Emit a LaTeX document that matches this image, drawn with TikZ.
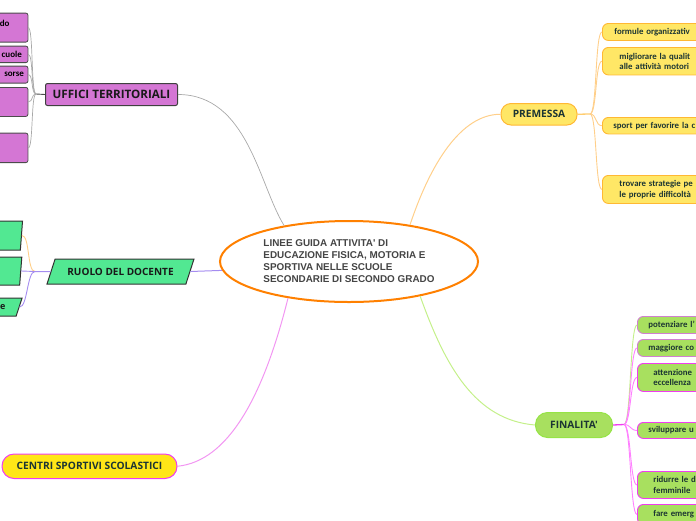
\documentclass[tikz,border=0pt]{standalone}
\usepackage{fontspec}
\setmainfont{Carlito}
\newfontfamily\osans{Open Sans}
\newfontfamily\arialf{Liberation Sans}
\usetikzlibrary{shapes.geometric}
\definecolor{purpF}{RGB}{212,118,212}
\definecolor{greenP}{RGB}{82,232,146}
\definecolor{premF}{RGB}{255,231,102}
\definecolor{premB}{RGB}{255,184,51}
\definecolor{finF}{RGB}{168,224,95}
\definecolor{finB}{RGB}{150,228,70}
\definecolor{centF}{RGB}{255,230,23}
\definecolor{magB}{RGB}{240,60,240}
\definecolor{mauveB}{RGB}{208,128,208}
\definecolor{txtD}{RGB}{28,53,51}
\definecolor{rootB}{RGB}{255,128,0}
\definecolor{rootT}{RGB}{68,68,68}
\definecolor{lnGray}{RGB}{168,168,168}
\definecolor{lnOrange}{RGB}{255,207,138}
\definecolor{lnPink}{RGB}{242,150,242}
\definecolor{lnGreen}{RGB}{196,240,138}
\definecolor{lnPurple}{RGB}{165,140,240}
\definecolor{lnMag}{RGB}{255,128,255}
\tikzset{
  mainfont/.style={font=\osans\bfseries\fontsize{10.2}{12}\selectfont},
  childfont/.style={font=\bfseries\fontsize{8.8}{10.5}\selectfont},
  lbox/.style={fill=purpF, draw=black!70, line width=0.8pt, rounded corners=2pt,
    anchor=north east, text width=100pt, inner xsep=0pt, inner ysep=0pt, align=right,
    font=\bfseries\fontsize{9}{10}\selectfont, text=black},
  pgram/.style={trapezium, trapezium stretches=true, fill=greenP, draw=black!80,
    line width=1pt, inner sep=2pt},
  pchild/.style={fill=premF, draw=premB, line width=0.9pt, rounded corners=6pt,
    anchor=north west, text width=150pt, inner ysep=0pt, align=left, childfont, text=txtD},
  fchild/.style={fill=finF, draw=magB, line width=0.9pt, rounded corners=6pt,
    anchor=north west, text width=150pt, inner ysep=0pt, align=left, childfont, text=txtD},
  conn/.style={line width=0.8pt},
}
\begin{document}
\begin{tikzpicture}[x=1pt,y=-1pt]
\useasboundingbox (0,0) rectangle (696,520);
\clip (0,0) rectangle (696,520);

% central node
\node[ellipse, draw=rootB, line width=2pt, fill=white, minimum width=258pt, minimum height=81pt,
  inner sep=0pt, align=left, text=rootT, font=\arialf\bfseries\fontsize{9.9}{12}\selectfont]
  (root) at (349,261.5) {LINEE GUIDA ATTIVITA' DI\\EDUCAZIONE FISICA, MOTORIA E\\SPORTIVA NELLE SCUOLE\\SECONDARIE DI SECONDO GRADO};

% main topics
\node[fill=purpF, draw=black!75, line width=1pt, rounded corners=2pt, anchor=north west,
  minimum width=132pt, minimum height=22pt, inner sep=0pt, text=black!90,
  font=\osans\bfseries\fontsize{11.6}{13}\selectfont] (uffici) at (45,83) {UFFICI TERRITORIALI};
\node[pgram, trapezium left angle=59, trapezium right angle=121, minimum width=147pt,
  minimum height=25pt, text=black!90, font=\osans\bfseries\fontsize{10}{12}\selectfont]
  (ruolo) at (120.5,271.5) {RUOLO DEL DOCENTE};
\node[fill=centF, draw=magB, line width=1pt, rounded corners=12pt, anchor=north west,
  minimum width=175pt, minimum height=24.5pt, inner sep=0pt, text=txtD, mainfont]
  (centri) at (1.5,453.5) {CENTRI SPORTIVI SCOLASTICI};
\node[fill=premF, draw=premB, line width=1pt, rounded corners=10pt, anchor=north west,
  minimum width=76pt, minimum height=21.5pt, inner sep=0pt, text=txtD, mainfont]
  (premessa) at (500.5,103) {PREMESSA};
\node[fill=finF, draw=finB, line width=1pt, rounded corners=12pt, anchor=north west,
  minimum width=77pt, minimum height=25pt, inner sep=0pt, text=txtD, mainfont]
  (finalita) at (535,412) {FINALITA'};

% left purple boxes
\node[lbox, align=left, minimum height=29pt, text height=7pt, text depth=10pt] (b1) at (28.3,12.7) {\hspace*{72pt}do};
\node[lbox, minimum height=16.5pt] (b2) at (28.3,45.7) {\mbox{cuole\rule{6pt}{0pt}}};
\node[lbox, minimum height=17pt] (b3) at (28.3,65.7) {\mbox{sorse\rule{4pt}{0pt}}};
\node[lbox, minimum height=29pt] (b4) at (28.3,87) {};
\node[lbox, minimum height=29.5pt] (b5) at (28.3,132.7) {};

% left parallelograms
\node[pgram, trapezium left angle=70, trapezium right angle=110, minimum width=100pt,
  minimum height=29pt, text width=60pt] (p1) at (-27.3,235.5) {};
\node[pgram, trapezium left angle=70, trapezium right angle=110, minimum width=100pt,
  minimum height=28pt, text width=60pt] (p2) at (-28,271) {};
\node[pgram, trapezium left angle=61, trapezium right angle=119, minimum width=100pt,
  minimum height=18pt, text width=70pt, align=right, text=black!90,
  font=\osans\bfseries\fontsize{9}{11}\selectfont] (p3) at (-27.5,307) {\mbox{e\rule{2pt}{0pt}}};

% premessa children
\node[pchild, inner xsep=12pt, minimum height=17pt] (c1) at (602,23) {formule organizzativ};
\node[pchild, inner xsep=17pt, minimum height=27.5pt] (c2) at (602,47) {migliorare la qualit\\alle attività motori};
\node[pchild, inner xsep=11pt, minimum height=16.5pt] (c3) at (602,117) {sport per favorire la c};
\node[pchild, inner xsep=17pt, minimum height=28pt] (c4) at (602,175) {trovare strategie pe\\le proprie difficoltà};

% finalita children
\node[fchild, draw=mauveB, inner xsep=11pt, minimum height=17pt] (f1) at (637,316) {potenziare l'};
\node[fchild, draw=mauveB, inner xsep=11pt, minimum height=17pt] (f2) at (637,339) {maggiore co};
\node[fchild, inner xsep=16pt, minimum height=28pt] (f3) at (637,363) {attenzione\\eccellenza};
\node[fchild, inner xsep=11pt, minimum height=16pt] (f4) at (637,422) {sviluppare u};
\node[fchild, inner xsep=16pt, minimum height=27pt] (f5) at (637,471) {ridurre le d\\femminile};
\node[fchild, inner xsep=16pt, minimum height=20pt] (f6) at (637,504) {fare emerg};

% hubs
\coordinate (uhub) at (36,94);
\coordinate (rhub) at (35,271.5);
\coordinate (phub) at (590,114);
\coordinate (fhub) at (624,424.5);

% connectors from root
\draw[conn, lnGray, line width=0.7pt] (root.151) .. controls +(-25,-40) and +(70,0) .. (uffici.east);
\draw[conn, lnOrange, line width=1pt] (root.31) .. controls +(20,-60) and +(-40,0) .. (premessa.west);
\draw[conn, lnPink, line width=1pt] (root.211) .. controls +(-25,100) and +(50,-5) .. (centri.east);
\draw[conn, lnGreen, line width=1pt] (root.-26) .. controls +(25,70) and +(-60,-5) .. (finalita.west);
\draw[conn, lnPurple, line width=1pt] (ruolo.east) -- (root.184);

% uffici branches
\draw[black!70, line width=0.9pt] (uffici.west) -- (uhub);
\foreach \b in {b1,b2,b3,b4,b5}
  \draw[lnGray, line width=0.7pt] (uhub) .. controls +(-5,0) and +(5,0) .. (\b.east);

% ruolo branches
\draw[lnPurple, line width=1pt] (ruolo.west) -- (rhub);
\draw[lnOrange, line width=0.9pt] (rhub) .. controls +(-8,0) and +(8,0) .. (p1.east);
\draw[lnPurple, line width=0.9pt] (rhub) -- (p2.east);
\draw[lnPurple, line width=0.9pt] (rhub) .. controls +(-8,0) and +(8,0) .. (p3.east);

% premessa branches
\draw[premB!70, line width=1.3pt] (premessa.east) -- (phub);
\foreach \c in {c1,c2,c3,c4}
  \draw[lnOrange, line width=0.9pt] (phub) .. controls +(7,0) and +(-7,0) .. (\c.west);

% finalita branches
\draw[magB, line width=1.3pt] (finalita.east) -- (fhub);
\draw[lnGreen, line width=0.9pt] (fhub) .. controls +(7,0) and +(-7,0) .. (f1.west);
\foreach \f in {f2,f3,f4,f5,f6}
  \draw[lnMag, line width=0.9pt] (fhub) .. controls +(7,0) and +(-7,0) .. (\f.west);
\end{tikzpicture}
\end{document}
